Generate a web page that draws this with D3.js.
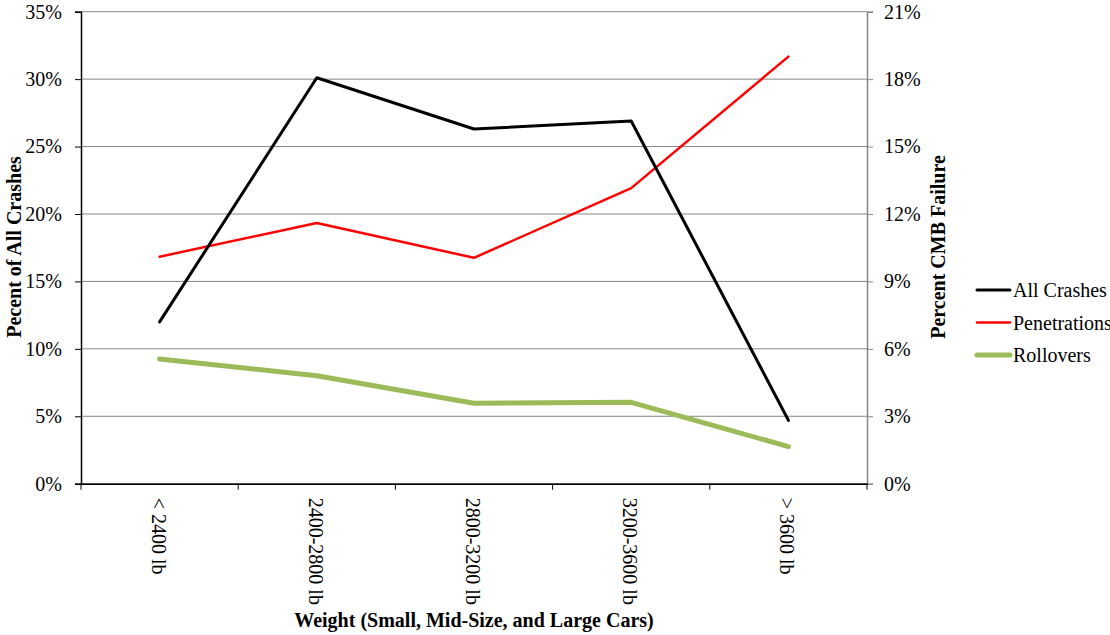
<!DOCTYPE html>
<html><head><meta charset="utf-8">
<script src="https://cdn.jsdelivr.net/npm/d3@7"></script>
<style>body{margin:0;background:#fff}svg{display:block}svg text{font-family:"Liberation Serif","Times New Roman",serif !important}</style>
</head><body><svg id="c" width="1110" height="635" font-family="Liberation Serif"></svg>
<script>
const categories = ["< 2400 lb","2400-2800 lb","2800-3200 lb","3200-3600 lb","> 3600 lb"];
const allCrashes = [12.0, 30.1, 26.3, 26.9, 4.7];
const penetrations = [10.1, 11.6, 10.05, 13.15, 19.0];
const rollovers = [5.55, 4.8, 3.58, 3.62, 1.65];
const leftTicks = [0,5,10,15,20,25,30,35];
const rightTicks = [0,3,6,9,12,15,18,21];
const seriesNames = ["All Crashes","Penetrations","Rollovers"];

const FS = 20;
const svg = d3.select("#c");
const L=81, R=867, T=11.7, B=483.7;
const x = d3.scaleBand().domain(categories).range([L,R]);
const yL = d3.scaleLinear().domain([0,35]).range([B,T]);
const yR = d3.scaleLinear().domain([0,21]).range([B,T]);

// gridlines
svg.append("g").selectAll("line").data(leftTicks).join("line")
  .attr("x1",L).attr("x2",R).attr("y1",d=>yL(d)).attr("y2",d=>yL(d))
  .attr("stroke","#868686").attr("stroke-width",1);

// left axis
const gl = svg.append("g").attr("transform",`translate(${L},0)`)
  .call(d3.axisLeft(yL).tickValues(leftTicks).tickFormat(d=>d+"%").tickSize(6).tickPadding(13));
gl.attr("font-family",null).attr("font-size",null);
gl.select(".domain").attr("stroke","#000").attr("stroke-width",1.5);
gl.selectAll(".tick line").attr("stroke","#000");
gl.selectAll("text").attr("font-size",FS).attr("fill","#000");

// right axis
const gr = svg.append("g").attr("transform",`translate(${R},0)`)
  .call(d3.axisRight(yR).tickValues(rightTicks).tickFormat(d=>d+"%").tickSize(6).tickPadding(11));
gr.attr("font-family",null).attr("font-size",null);
gr.select(".domain").attr("stroke","#868686").attr("stroke-width",1.5);
gr.selectAll(".tick line").attr("stroke","#868686");
gr.selectAll("text").attr("font-size",FS).attr("fill","#000");

// bottom axis
const gb = svg.append("g").attr("transform",`translate(0,${B})`)
  .call(d3.axisBottom(x).tickSize(0).tickFormat(""));
gb.attr("font-family",null).attr("font-size",null);
gb.select(".domain").attr("stroke","#000").attr("stroke-width",1.5);
const edges = categories.map(c=>x(c)).concat([R]);
gb.append("g").selectAll("line").data(edges).join("line")
  .attr("x1",d=>d).attr("x2",d=>d).attr("y1",0).attr("y2",6).attr("stroke","#000");
gb.append("g").selectAll("text").data(categories).join("text")
  .attr("transform",d=>`translate(${x(d)+x.bandwidth()/2-8},14) rotate(90)`)
  .attr("text-anchor","start").attr("font-size",FS).attr("fill","#000").text(d=>d);

// lines
const mk = (vals, ys) => d3.line().x((d,i)=>x(categories[i])+x.bandwidth()/2).y(d=>ys(d))(vals);
svg.append("path").attr("d",mk(rollovers,yR)).attr("fill","none").attr("stroke","#9BBB59").attr("stroke-width",5).attr("stroke-linejoin","round").attr("stroke-linecap","round");
svg.append("path").attr("d",mk(penetrations,yR)).attr("fill","none").attr("stroke","#FF0000").attr("stroke-width",2.5).attr("stroke-linejoin","round").attr("stroke-linecap","round");
svg.append("path").attr("d",mk(allCrashes,yL)).attr("fill","none").attr("stroke","#000").attr("stroke-width",3).attr("stroke-linejoin","round").attr("stroke-linecap","round");

// titles
svg.append("text").attr("transform","translate(21,247) rotate(-90)").attr("text-anchor","middle")
  .attr("font-size",FS).attr("font-weight","bold").text("Pecent of All Crashes");
svg.append("text").attr("transform","translate(945,247) rotate(-90)").attr("text-anchor","middle")
  .attr("font-size",FS).attr("font-weight","bold").text("Percent CMB Failure");
svg.append("text").attr("x",474).attr("y",627).attr("text-anchor","middle")
  .attr("font-size",FS).attr("font-weight","bold").text("Weight (Small, Mid-Size, and Large Cars)");

// legend
const lc = ["#000","#FF0000","#9BBB59"], lw=[3,2.5,5];
const lg = svg.append("g").selectAll("g").data(seriesNames).join("g")
  .attr("transform",(d,i)=>`translate(977,${290+i*32.5})`);
lg.append("line").attr("x1",0).attr("x2",33).attr("stroke",(d,i)=>lc[i]).attr("stroke-width",(d,i)=>lw[i]).attr("stroke-linecap","round");
lg.append("text").attr("x",36).attr("y",7).attr("font-size",FS).text(d=>d);
</script></body></html>
